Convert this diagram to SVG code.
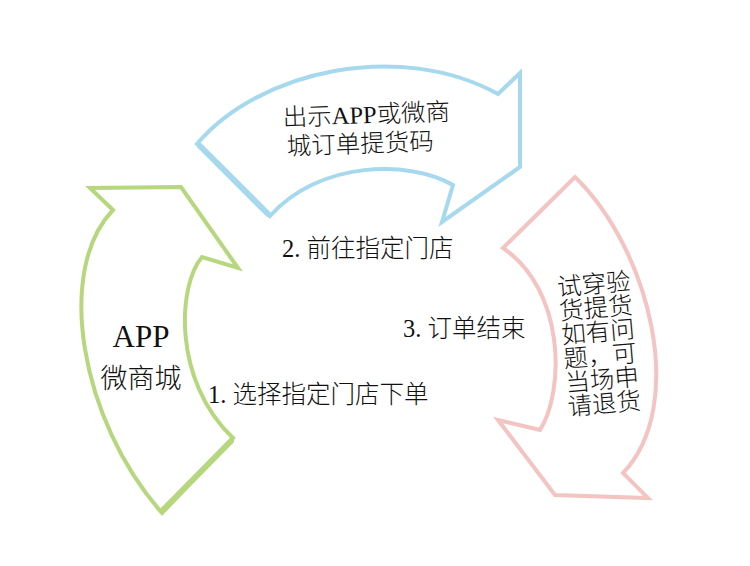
<svg xmlns="http://www.w3.org/2000/svg" width="750" height="566" viewBox="0 0 750 566">
<style>
.arrow{fill:#ffffff;stroke-width:4;stroke-linejoin:miter;stroke-miterlimit:10}
.green{stroke:#b7d77e}
.blue{stroke:#a6d8ee}
.pink{stroke:#f3c4c2}
.thick{fill:none;stroke-width:6;stroke-linecap:round}
.t{font-family:"Liberation Serif","Noto Sans CJK SC",sans-serif;font-weight:300;fill:#111111}
.cjk{font-family:"Noto Sans CJK SC",sans-serif;font-weight:300;fill:#111111}
</style>
<rect width="750" height="566" fill="#ffffff"/>

<g id="node-app">
<path class="arrow green" d="M113,210 L90,188 L181,187 L238,268 L202,257 C178,285 172,380 233,438 L162,513 C80,420 55,270 113,210 Z"/>
<line class="thick green" x1="231" y1="441" x2="163" y2="510"/>
<text class="t" x="141" y="347" font-size="31" text-anchor="middle">APP</text>
<text class="cjk" x="141" y="388" font-size="27" text-anchor="middle">微商城</text>
</g>

<g id="node-show-code">
<path class="arrow blue" d="M197,144 C260,70 400,40 498,94 L520,73 L520,167 L442,222 L453,185 C410,160 320,160 270,216 Z"/>
<line class="thick blue" x1="268" y1="214" x2="200" y2="146"/>
<g transform="rotate(-2 283 126)">
<text class="t" x="283" y="126" font-size="24.5">出示APP或微商</text>
<text class="t" x="286" y="155" font-size="24.5">城订单提货码</text>
</g>
</g>

<g id="node-return">
<path class="arrow pink" d="M575,177 C650,250 688,405 623,473 L648,498 L555,495 L498,420 L540,430 C565,390 565,290 503,248 Z"/>
<g transform="rotate(-5 558 296)" class="cjk" font-size="24.5">
<text x="558" y="296">试穿验</text>
<text x="558" y="320">货提货</text>
<text x="558" y="344">如有问</text>
<text x="558" y="368">题，可</text>
<text x="558" y="392">当场申</text>
<text x="558" y="416">请退货</text>
</g>
</g>

<g id="connectors">
<text class="t" x="208" y="403" font-size="24.5">1. 选择指定门店下单</text>
<text class="t" x="282" y="257" font-size="24.5">2. 前往指定门店</text>
<text class="t" x="403" y="337" font-size="24.5">3. 订单结束</text>
</g>
</svg>
